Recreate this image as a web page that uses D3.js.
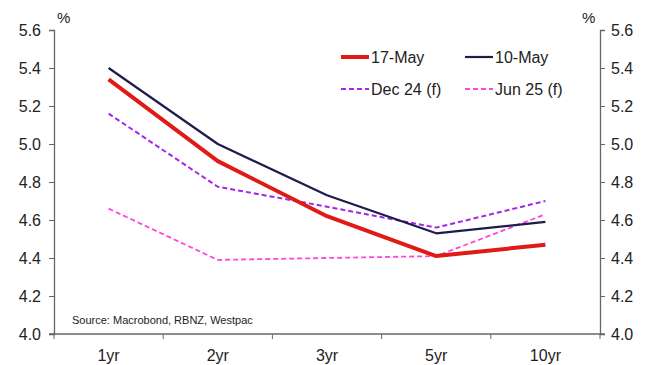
<!DOCTYPE html>
<html><head><meta charset="utf-8">
<script src="https://cdn.jsdelivr.net/npm/d3@7"></script>
<style>body{margin:0;background:#fff}svg{display:block;font-family:"Liberation Sans",Arial,sans-serif}</style>
</head><body><svg id="c" width="652" height="365"></svg>
<script>
const categories = ["1yr","2yr","3yr","5yr","10yr"];
const may17 = [5.34,4.91,4.62,4.41,4.47];
const may10 = [5.40,5.00,4.73,4.53,4.59];
const dec24 = [5.16,4.775,4.67,4.56,4.70];
const jun25 = [4.66,4.39,4.40,4.41,4.63];
const yTicks = [4.0,4.2,4.4,4.6,4.8,5.0,5.2,5.4,5.6];
const seriesNames = ["17-May","10-May","Dec 24 (f)","Jun 25 (f)"];

const series = [
  {name:seriesNames[0], values:may17, color:"#e01a14", width:4, dash:null},
  {name:seriesNames[1], values:may10, color:"#1e1b4d", width:2.2, dash:null},
  {name:seriesNames[2], values:dec24, color:"#a526e8", width:2, dash:"5,3"},
  {name:seriesNames[3], values:jun25, color:"#ff45dc", width:1.8, dash:"5,3"}
];

const svg = d3.select("#c");
const L=54, R=600, T=30, B=334;
const x = d3.scaleBand().domain(categories).range([L,R]);
const y = d3.scaleLinear().domain([4.0,5.6]).range([B,T]);
const axisColor="#666";

const la = svg.append("g").attr("transform",`translate(${L},0)`)
  .call(d3.axisLeft(y).tickValues(yTicks).tickFormat(d3.format(".1f")).tickSize(5).tickPadding(8));
const ra = svg.append("g").attr("transform",`translate(${R},0)`)
  .call(d3.axisRight(y).tickValues(yTicks).tickFormat(d3.format(".1f")).tickSize(5).tickPadding(6));
[la,ra].forEach(g=>{
  g.select(".domain").attr("stroke",axisColor).attr("stroke-width",1.3);
  g.selectAll(".tick line").attr("stroke",axisColor);
  g.selectAll("text").attr("font-size",16).attr("fill","#222");
});
const bg = svg.append("g").attr("transform",`translate(0,${B})`);
bg.append("line").attr("x1",L-5).attr("x2",R+5).attr("y1",0).attr("y2",0).attr("stroke",axisColor).attr("stroke-width",1.3);
const bounds = categories.map(c=>x(c)).concat([x(categories[categories.length-1])+x.bandwidth()]);
bg.selectAll("line.tk").data(bounds).join("line").attr("class","tk")
  .attr("x1",d=>d).attr("x2",d=>d).attr("y1",0).attr("y2",5).attr("stroke",axisColor);
bg.selectAll("text").data(categories).join("text")
  .attr("x",d=>x(d)+x.bandwidth()/2).attr("y",27).attr("text-anchor","middle")
  .attr("font-size",16).attr("fill","#222").text(d=>d);

svg.append("text").attr("x",57).attr("y",23).attr("font-size",15).attr("fill","#222").text("%");
svg.append("text").attr("x",582).attr("y",23).attr("font-size",15).attr("fill","#222").text("%");

const line = d3.line().x((d,i)=>x(categories[i])+x.bandwidth()/2).y(d=>y(d));
[series[3],series[2],series[1],series[0]].forEach(s=>{
  svg.append("path").datum(s.values).attr("d",line).attr("fill","none")
    .attr("stroke",s.color).attr("stroke-width",s.width)
    .attr("stroke-dasharray",s.dash).attr("stroke-linejoin","round");
});

const legPos = [[341,57],[465,57],[341,89],[465,89]];
series.forEach((s,i)=>{
  const [lx,ly]=legPos[i];
  svg.append("line").attr("x1",lx).attr("x2",lx+28).attr("y1",ly).attr("y2",ly)
    .attr("stroke",s.color).attr("stroke-width",s.width).attr("stroke-dasharray",s.dash);
  svg.append("text").attr("x",lx+30).attr("y",ly+6).attr("font-size",16).attr("fill","#222").text(s.name);
});

svg.append("text").attr("x",72).attr("y",324).attr("font-size",11).attr("fill","#222").text("Source: Macrobond, RBNZ, Westpac");
</script></body></html>
